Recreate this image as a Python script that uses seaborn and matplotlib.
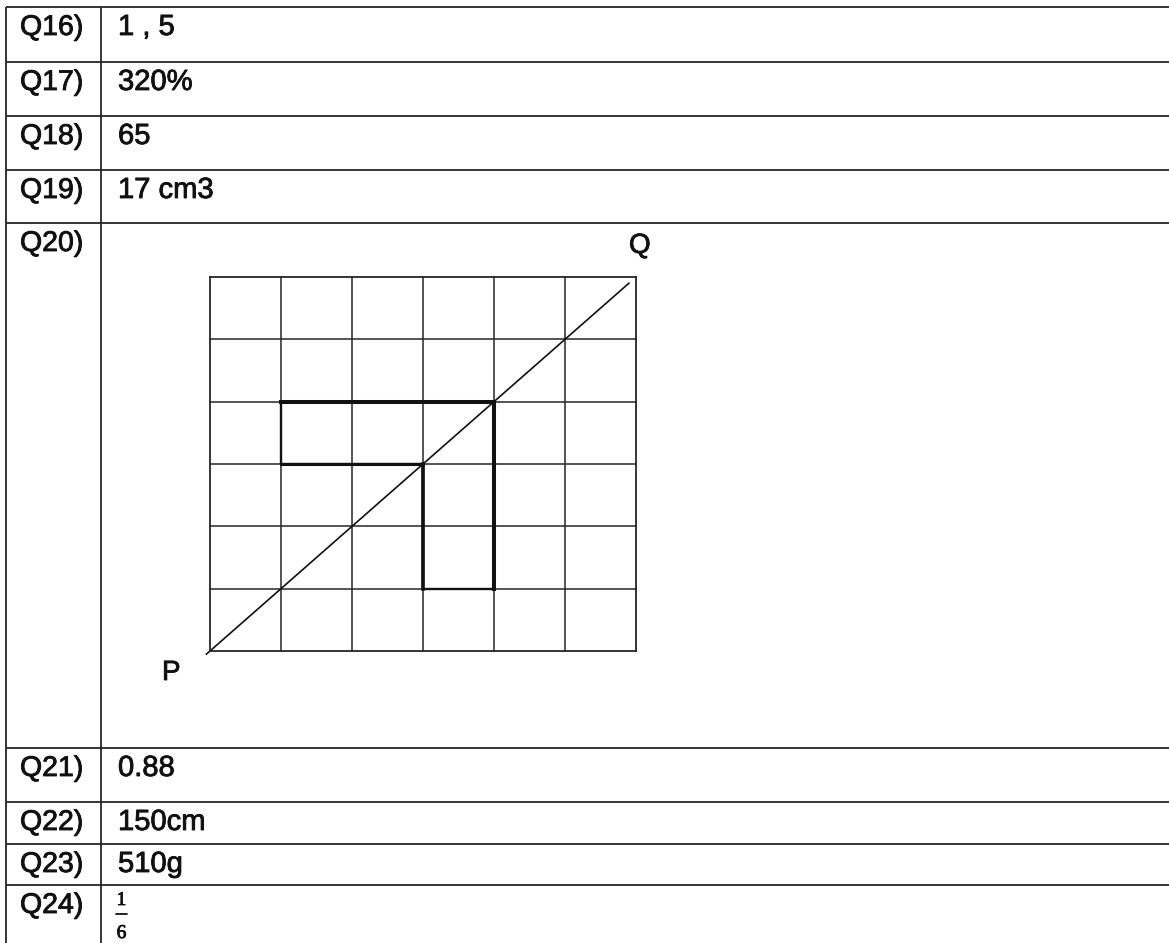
import matplotlib
matplotlib.use("Agg")
import matplotlib.pyplot as plt
import matplotlib.patheffects as pe
import seaborn as sns
import pandas as pd

# ---------------- data ----------------
questions = ["Q16)", "Q17)", "Q18)", "Q19)", "Q20)", "Q21)", "Q22)", "Q23)", "Q24)"]
answers = ["1 , 5", "320%", "65", "17 cm3", "", "0.88", "150cm", "510g", ""]
fraction_num = "1"
fraction_den = "6"

grid_cols = 6
grid_rows = 6
diag_x = [-0.05, 5.9]
diag_y = [-0.05, 5.9]
shape_x = [1, 4, 4, 3, 3, 1, 1]
shape_y = [4, 4, 1, 1, 3, 3, 4]
label_start = "P"
label_end = "Q"

# ---------------- layout (pixels) ----------------
W, H = 1169, 943
row_tops = [7, 62, 116, 170, 223, 748, 802, 844, 885]
x_left, x_div = 6, 101
grid_box = (210, 277, 636, 651)  # left, top, right, bottom

sns.set_theme(style="white")
plt.rcParams["font.family"] = ["Liberation Sans", "DejaVu Sans"]

fig = plt.figure(figsize=(W / 100, H / 100), dpi=100)
fig.patch.set_facecolor("white")
ax = fig.add_axes([0, 0, 1, 1])
ax.set_xlim(0, W)
ax.set_ylim(H, 0)
ax.axis("off")

line_col = "#262626"
txt_col = "#111111"
lw_table = 1.3
thick = [pe.withStroke(linewidth=0.6, foreground=txt_col)]

# table lines
for y in row_tops:
    ax.plot([x_left, W], [y, y], color=line_col, lw=lw_table, solid_capstyle="butt")
for x in (x_left, x_div):
    ax.plot([x, x], [row_tops[0], H], color=line_col, lw=lw_table, solid_capstyle="butt")

# texts
for q, a, top in zip(questions, answers, row_tops):
    ax.text(20, top + 28, q, fontsize=20.5, va="baseline", ha="left", color=txt_col,
            path_effects=thick)
    if a:
        ax.text(118, top + 28, a, fontsize=21, va="baseline", ha="left", color=txt_col,
                path_effects=thick)

# fraction for Q24
fx = 121.5
ax.text(fx, 905, fraction_num, fontsize=14, family=["Liberation Serif", "DejaVu Serif"],
        ha="center", va="baseline", color=txt_col, path_effects=thick)
ax.plot([116, 127], [914, 914], color=txt_col, lw=1.3)
ax.text(fx, 938, fraction_den, fontsize=14, family=["Liberation Serif", "DejaVu Serif"],
        ha="center", va="baseline", color=txt_col, path_effects=thick)

# P / Q labels
ax.text(162, 680, label_start, fontsize=20, ha="left", va="baseline", color=txt_col,
        path_effects=thick)
ax.text(629, 253, label_end, fontsize=20, ha="left", va="baseline", color=txt_col,
        path_effects=thick)

# grid figure in its own axes
gl, gt, gr, gb = grid_box
gax = fig.add_axes([gl / W, (H - gb) / H, (gr - gl) / W, (gb - gt) / H])
gax.set_xlim(0, grid_cols)
gax.set_ylim(0, grid_rows)
gax.set_xticks([])
gax.set_yticks([])
gax.patch.set_alpha(0)
for s in gax.spines.values():
    s.set_visible(True)
    s.set_color(line_col)
    s.set_linewidth(1.3)
for i in range(1, grid_cols):
    gax.axvline(i, color=line_col, lw=1.1)
for j in range(1, grid_rows):
    gax.axhline(j, color=line_col, lw=1.1)

diag_df = pd.DataFrame({"x": diag_x, "y": diag_y})
sns.lineplot(data=diag_df, x="x", y="y", sort=False, estimator=None, ax=gax,
             color=txt_col, lw=1.2)

shape_df = pd.DataFrame({"x": shape_x, "y": shape_y})
# whole outline (thinner), then heavier strokes over the main edges
sns.lineplot(data=shape_df, x="x", y="y", sort=False, estimator=None, ax=gax,
             color=txt_col, lw=1.7)
sns.lineplot(data=shape_df.iloc[0:3], x="x", y="y", sort=False, estimator=None, ax=gax,
             color=txt_col, lw=2.9)
sns.lineplot(data=shape_df.iloc[3:5], x="x", y="y", sort=False, estimator=None, ax=gax,
             color=txt_col, lw=2.6)
sns.lineplot(data=shape_df.iloc[4:6], x="x", y="y", sort=False, estimator=None, ax=gax,
             color=txt_col, lw=2.2)
for l in gax.lines:
    l.set_clip_on(False)
    l.set_solid_capstyle("projecting")
gax.set_xlabel("")
gax.set_ylabel("")
gax.set_xlim(0, grid_cols)
gax.set_ylim(0, grid_rows)

fig.savefig("out.png", dpi=100, facecolor="white")
